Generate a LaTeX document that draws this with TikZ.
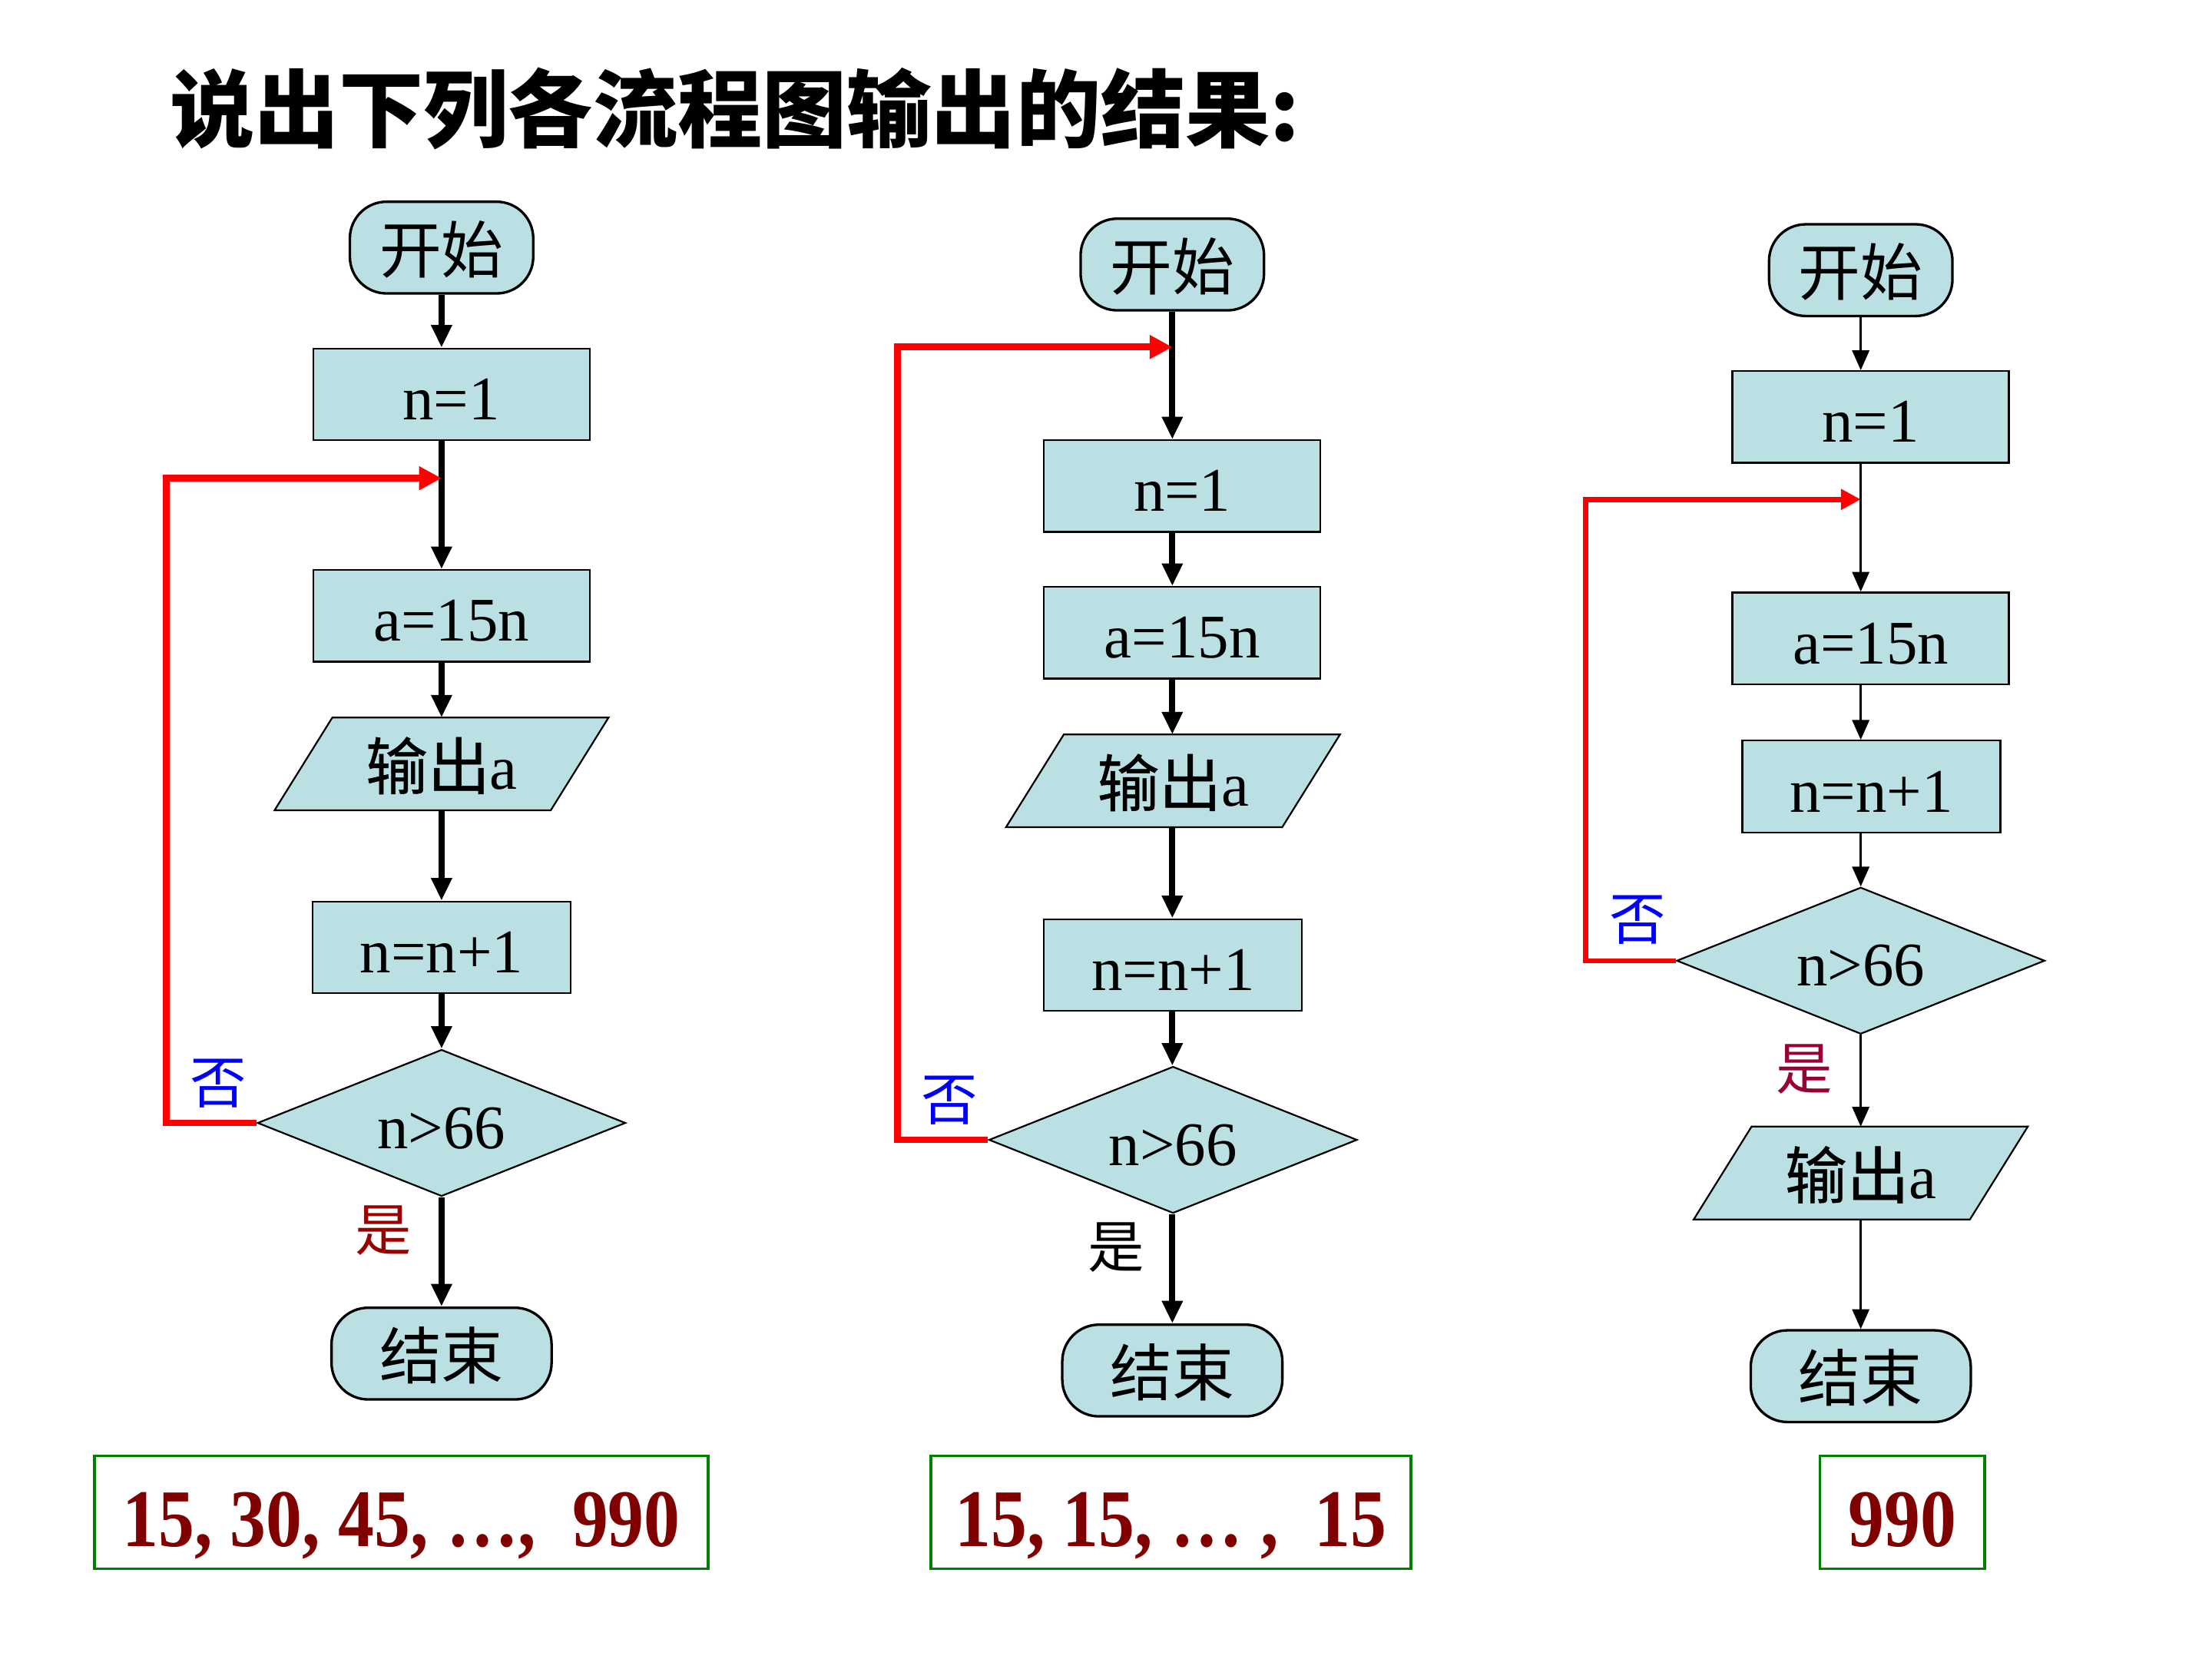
\documentclass[tikz,border=0pt]{standalone}
\usepackage{fontspec}
\setmainfont{Liberation Serif}
\newfontfamily\cjk{Noto Sans CJK SC}
\newfontfamily\cjkm[FakeBold=0.6]{Noto Sans CJK SC}
\newfontfamily\resfont[FakeStretch=0.88]{Liberation Serif}
\usetikzlibrary{arrows.meta,shapes.geometric,calc,backgrounds}
\definecolor{flowfill}{RGB}{187,224,227}
\definecolor{resred}{RGB}{128,0,0}
\definecolor{resgreen}{RGB}{0,128,0}
\definecolor{yesred}{RGB}{153,0,0}
\definecolor{yescrim}{RGB}{153,0,51}
\newcommand\drawpar[1]{\draw[parline] ($(#1.north west)+(20.5,0)$) -- ($(#1.north east)+(20.5,0)$) -- ($(#1.south east)+(-20.5,0)$) -- ($(#1.south west)+(-20.5,0)$) -- cycle;}
\tikzset{
  box/.style={draw=black,line width=0.6pt,fill=flowfill,minimum height=32.5pt,inner sep=0pt,text height=18pt,text depth=0pt,font=\fontsize{22}{26}\selectfont},
  proc/.style={box,minimum width=98pt},
  incbox/.style={box,minimum width=91.5pt},
  term/.style={box,rounded corners=13pt,line width=0.9pt},
  startbox/.style={term,minimum width=65pt},
  endbox/.style={term,minimum width=78pt},
  parnode/.style={inner sep=0pt,minimum width=97.5pt,minimum height=32.5pt,text height=18pt,text depth=0pt,font=\fontsize{22}{26}\selectfont},
  parline/.style={draw=black,line width=0.6pt,fill=flowfill},
  dec/.style={shape=diamond,draw=black,line width=0.6pt,fill=flowfill,minimum width=130.5pt,minimum height=52pt,inner sep=0pt,aspect=2.5,text height=18pt,text depth=0pt,font=\fontsize{22}{26}\selectfont},
  thk/.style={line width=2.2pt,-{Triangle[length=8pt,width=7pt]}},
  thn/.style={line width=0.8pt,-{Triangle[length=7pt,width=6pt]}},
  loopthk/.style={red,line width=2.4pt,-{Triangle[length=8pt,width=8pt]}},
  loopthn/.style={red,line width=1.8pt,-{Triangle[length=7pt,width=7pt]}},
  lbl/.style={inner sep=0pt,font=\cjk\fontsize{20}{24}\selectfont},
  result/.style={draw=resgreen,line width=1pt,minimum height=40pt,inner sep=0pt,text height=24pt,text depth=0pt,text=resred,font=\resfont\bfseries\fontsize{29}{34}\selectfont}
}
\begin{document}
\begin{tikzpicture}[x=0.5pt,y=-0.5pt]
\useasboundingbox (0,0) rectangle (1568,1176);

% title
\node[anchor=west,inner sep=0pt,font=\cjk\bfseries\fontsize{30}{36}\selectfont] (title) at (120,77) {说出下列各流程图输出的结果:};

% ---------- chart 1 ----------
\node[startbox] (s1) at (313,175.5) {\cjk 开始};
\node[proc] (b1) at (320,279.5) {n=1};
\node[proc] (a1) at (320,436.5) {a=15n};
\node[parnode] (p1) at (313,541.5) {{\cjkm 输出}a};
\node[incbox] (c1) at (313,671.5) {n=n+1};
\node[dec] (d1) at (313,796) {n>66};
\node[endbox] (e1) at (313,959.5) {\cjk 结束};
\node[result,minimum width=217.5pt] (r1) at (284.5,1072) {15, 30, 45, …,\ \ 990};
\node[lbl,text=blue] (no1) at (155,768) {否};
\node[lbl,text=yesred] (yes1) at (272,872) {是};
\coordinate (k1) at (118,339);
\coordinate (j1) at (313,339);

\draw[thk] (s1.south) -- (s1.south |- b1.north);
\draw[thk] (b1.south -| s1) -- (a1.north -| s1);
\draw[thk] (a1.south -| s1) -- (p1.north);
\draw[thk] (p1.south) -- (c1.north);
\draw[thk] (c1.south) -- (d1.north);
\draw[thk] (d1.south) -- (e1.north);
\draw[loopthk] (d1.west) -| (k1) -- (j1);

% ---------- chart 2 ----------
\node[startbox] (s2) at (831,187.5) {\cjk 开始};
\node[proc] (b2) at (838,344.5) {n=1};
\node[proc] (a2) at (838,448.5) {a=15n};
\node[parnode] (p2) at (831.5,553.5) {{\cjkm 输出}a};
\node[incbox] (c2) at (831.5,684) {n=n+1};
\node[dec] (d2) at (831.5,808) {n>66};
\node[endbox] (e2) at (831,971.5) {\cjk 结束};
\node[result,minimum width=170pt] (r2) at (830,1072) {15, 15, … ,\ \ 15};
\node[lbl,text=blue] (no2) at (673,780) {否};
\node[lbl,text=black] (yes2) at (791,884) {是};
\coordinate (k2) at (636,246);
\coordinate (j2) at (831,246);

\draw[thk] (s2.south) -- (s2.south |- b2.north);
\draw[thk] (b2.south -| s2) -- (a2.north -| s2);
\draw[thk] (a2.south -| s2) -- (p2.north -| s2);
\draw[thk] (p2.south -| s2) -- (c2.north -| s2);
\draw[thk] (c2.south -| s2) -- (d2.north -| s2);
\draw[thk] (d2.south -| s2) -- (e2.north);
\draw[loopthk] (d2.west) -| (k2) -- (j2);

% ---------- chart 3 ----------
\node[startbox] (s3) at (1319,191.5) {\cjk 开始};
\node[proc] (b3) at (1326,295.5) {n=1};
\node[proc] (a3) at (1326,452.5) {a=15n};
\node[incbox] (c3) at (1326.5,557.5) {n=n+1};
\node[dec] (d3) at (1319,681) {n>66};
\node[parnode] (p3) at (1319,831.5) {{\cjkm 输出}a};
\node[endbox] (e3) at (1319,975.5) {\cjk 结束};
\node[result,minimum width=58.5pt] (r3) at (1348.5,1072) {990};
\node[lbl,text=blue] (no3) at (1161,652) {否};
\node[lbl,text=yescrim] (yes3) at (1279,758) {是};
\coordinate (k3) at (1124,354);
\coordinate (j3) at (1319,354);

\draw[thn] (s3.south) -- (s3.south |- b3.north);
\draw[thn] (b3.south -| s3) -- (a3.north -| s3);
\draw[thn] (a3.south -| s3) -- (c3.north -| s3);
\draw[thn] (c3.south -| s3) -- (d3.north);
\draw[thn] (d3.south) -- (p3.north);
\draw[thn] (p3.south) -- (e3.north);
\draw[loopthn] (d3.west) -| (k3) -- (j3);

\begin{scope}[on background layer]
\fill[white] (0,0) rectangle (1568,1176);
\drawpar{p1}
\drawpar{p2}
\drawpar{p3}
\end{scope}
\end{tikzpicture}
\end{document}
